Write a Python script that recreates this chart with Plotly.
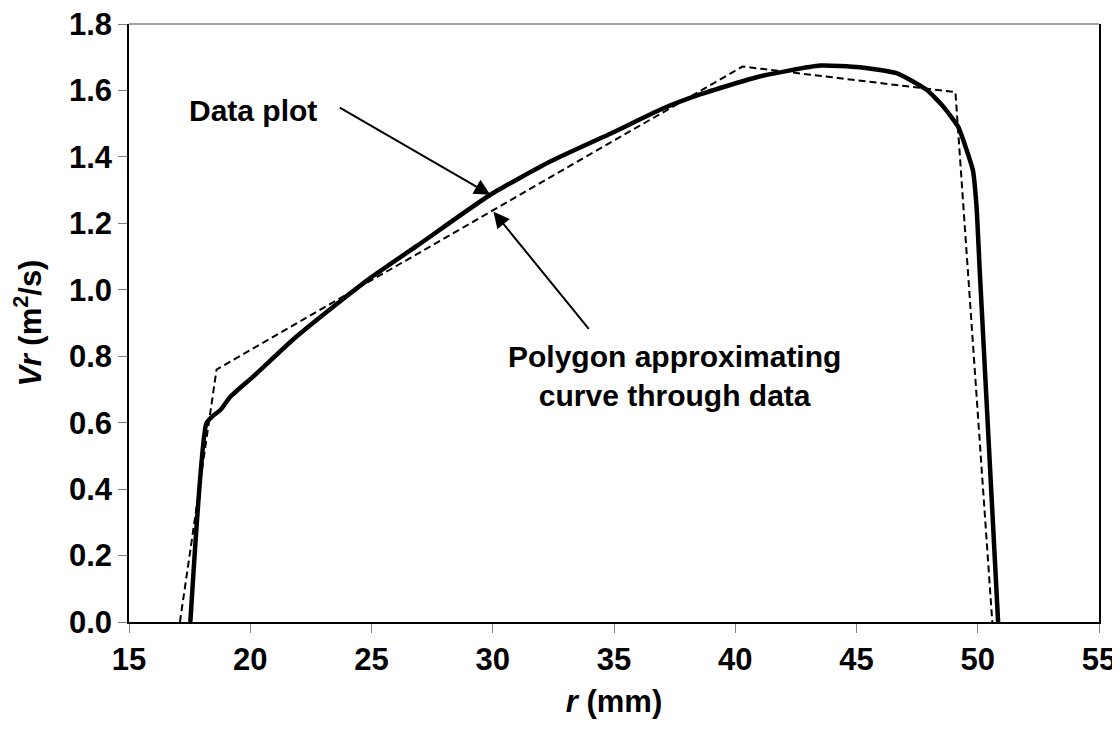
import plotly.graph_objects as go

# Data plot (solid curve)
data_r = [17.53, 18.19, 18.45, 18.77, 19.18, 20.14, 21.79, 23.58, 25.0, 26.87,
          29.9, 32.37, 35.0, 36.9, 38.55, 41.0, 43.5, 45.14, 46.65, 47.89,
          48.57, 49.19, 49.54, 49.80, 49.95, 50.08, 50.84]
data_vr = [0.0, 0.598, 0.620, 0.638, 0.678, 0.740, 0.852, 0.958, 1.038, 1.132,
           1.286, 1.386, 1.475, 1.542, 1.588, 1.642, 1.675, 1.670, 1.652, 1.602,
           1.552, 1.491, 1.421, 1.36, 1.25, 1.06, 0.0]

# Polygon approximating curve (dashed)
poly_r = [17.1, 18.61, 40.3, 49.08, 50.6]
poly_vr = [0.0, 0.760, 1.672, 1.595, 0.0]

x_ticks = [15, 20, 25, 30, 35, 40, 45, 50, 55]
y_ticks = [0.0, 0.2, 0.4, 0.6, 0.8, 1.0, 1.2, 1.4, 1.6, 1.8]

FONT = "Liberation Sans, Arial, sans-serif"
FS_AX = 31
FS_TXT = 30

fig = go.Figure()
fig.add_trace(go.Scatter(x=poly_r, y=poly_vr, mode="lines",
                         line=dict(color="black", width=2, dash="7px,4px"),
                         showlegend=False, hoverinfo="skip"))
fig.add_trace(go.Scatter(x=data_r, y=data_vr, mode="lines",
                         line=dict(color="black", width=4.5, shape="spline", smoothing=0.5),
                         showlegend=False, hoverinfo="skip"))

# Arrows
fig.add_annotation(x=29.9, y=1.286, ax=23.63, ay=1.551, xref="x", yref="y",
                   axref="x", ayref="y", text="", showarrow=True,
                   arrowhead=2, arrowsize=1.6, arrowwidth=2, arrowcolor="black")
fig.add_annotation(x=30.03, y=1.235, ax=34.01, ay=0.878, xref="x", yref="y",
                   axref="x", ayref="y", text="", showarrow=True,
                   arrowhead=2, arrowsize=1.6, arrowwidth=2, arrowcolor="black")
# Labels
fig.add_annotation(x=20.1, y=1.54, xref="x", yref="y", text="<b>Data plot</b>",
                   showarrow=False, font=dict(family=FONT, size=FS_TXT, color="black"))
fig.add_annotation(x=37.5, y=0.74, xref="x", yref="y",
                   text="<b>Polygon approximating<br>curve through data</b>",
                   showarrow=False, align="center",
                   font=dict(family=FONT, size=FS_TXT, color="black"))

# top border (grey)
fig.add_shape(type="line", xref="paper", yref="paper", x0=0, x1=1, y0=1, y1=1,
              line=dict(color="#808080", width=1.5))

# page body adds an 8px offset; compensate so the plot area lands at
# x 128.5..1099.3, y 24.3..621.7 on screen
fig.update_layout(
    width=1112, height=726,
    margin=dict(l=120.5, r=20.7, t=16.3, b=112.3),
    paper_bgcolor="white", plot_bgcolor="white",
    font=dict(family=FONT, size=FS_AX, color="black"),
    xaxis=dict(range=[15, 55], tickvals=x_ticks,
               ticktext=[f"<b>{v}</b>" for v in x_ticks],
               tickfont=dict(family=FONT, size=FS_AX),
               ticklabeloverflow="allow",
               showline=True, linecolor="black", linewidth=1.5, mirror=False,
               ticks="outside", ticklen=9, tickcolor="#808080", tickwidth=1,
               showgrid=False, zeroline=False, automargin=False,
               title=dict(text="<b><i>r</i> (mm)</b>", standoff=14,
                          font=dict(family=FONT, size=FS_AX))),
    yaxis=dict(range=[0, 1.8], tickvals=y_ticks,
               ticktext=[f"<b>{v:.1f}</b>" for v in y_ticks],
               tickfont=dict(family=FONT, size=FS_AX),
               ticklabeloverflow="allow",
               showline=True, linecolor="black", linewidth=1.5, mirror=True,
               ticks="outside", ticklen=9, tickcolor="#808080", tickwidth=1,
               showgrid=False, zeroline=False, automargin=False,
               title=dict(text="<b><i>Vr</i> (m<sup>2</sup>/s)</b>", standoff=18,
                          font=dict(family=FONT, size=FS_AX))),
)

fig.write_html("out.html")
